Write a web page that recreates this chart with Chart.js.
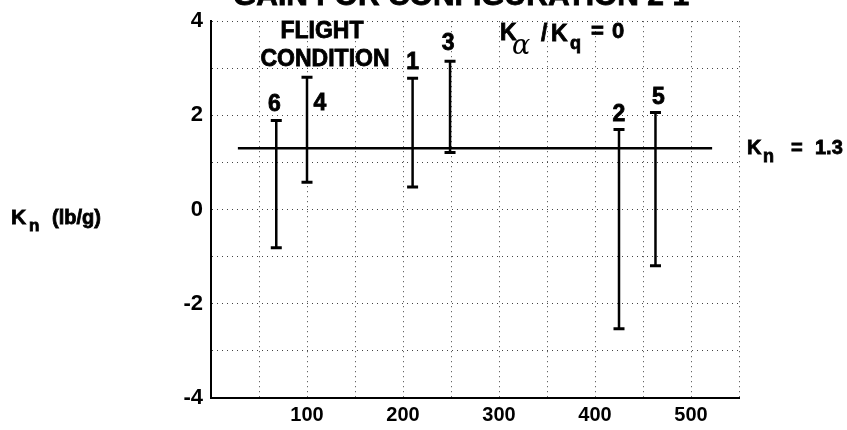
<!DOCTYPE html>
<html>
<head>
<meta charset="utf-8">
<script src="https://cdn.jsdelivr.net/npm/chart.js@4.4.0/dist/chart.umd.min.js"></script>
<style>
  html, body { margin: 0; padding: 0; background: #fff; }
</style>
</head>
<body>
<canvas id="chart" width="847" height="430"></canvas>
<script>
// flight conditions, airspeed and K_n tolerance range (lb/g)
const conditions = ["1", "2", "3", "4", "5", "6"];
const speeds = [210, 425, 249, 100, 463, 68];
const kLow = [0.48, -2.53, 1.21, 0.58, -1.19, -0.81];
const kHigh = [2.79, 1.70, 3.15, 2.81, 2.06, 1.89];
const knValue = 1.3;
const knSpan = [28, 522];
const xLabels = [100, 200, 300, 400, 500];
const yLabels = [-4, -2, 0, 2, 4];

const FONT = "'Liberation Sans', Arial, sans-serif";

const barPoints = [];
conditions.forEach((c, i) => {
  barPoints.push({ x: speeds[i], y: kLow[i] });
  barPoints.push({ x: speeds[i], y: kHigh[i] });
  barPoints.push({ x: speeds[i], y: null });
});

// offsets of the condition numbers from the top of each bar
const labelShift = {
  "1": [0, -9], "2": [0, -9], "3": [-2, -11],
  "4": [13, 33], "5": [3, -9], "6": [-2, -10]
};

// fill + thin stroke, the scanned lettering is heavier than plain bold
function heavy(ctx, txt, x, y) {
  ctx.fillText(txt, x, y);
  ctx.strokeText(txt, x, y);
}

const textPlugin = {
  id: "texts",
  afterDraw(chart) {
    const ctx = chart.ctx;
    const xs = chart.scales.x, ys = chart.scales.y;
    ctx.save();
    ctx.fillStyle = "#000";
    ctx.strokeStyle = "#000";
    ctx.lineWidth = 0.8;
    ctx.textBaseline = "alphabetic";

    // condition numbers
    ctx.font = "bold 23px " + FONT;
    ctx.textAlign = "center";
    conditions.forEach((c, i) => {
      const s = labelShift[c];
      heavy(ctx, c, xs.getPixelForValue(speeds[i]) + s[0], ys.getPixelForValue(kHigh[i]) + s[1]);
    });

    // title, cut off at the top edge
    ctx.font = "bold 30px " + FONT;
    heavy(ctx, "GAIN FOR CONFIGURATION 2 1", 461, 5);

    ctx.font = "bold 23px " + FONT;
    heavy(ctx, "FLIGHT", 322, 38);
    heavy(ctx, "CONDITION", 325, 66);

    // K_alpha / K_q = 0
    ctx.textAlign = "left";
    ctx.font = "bold 23px " + FONT;
    heavy(ctx, "K", 500, 40);
    ctx.font = "italic 27px 'DejaVu Serif', serif";
    ctx.fillText("\u03B1", 512, 54);
    ctx.font = "bold 23px " + FONT;
    heavy(ctx, "/", 541, 41);
    heavy(ctx, "K", 551, 41);
    ctx.font = "bold 18px " + FONT;
    heavy(ctx, "q", 570, 49);
    ctx.font = "bold 22px " + FONT;
    heavy(ctx, "=", 591, 38);
    heavy(ctx, "0", 612, 38);

    // K_n = 1.3
    const yk = ys.getPixelForValue(knValue);
    ctx.font = "bold 20px " + FONT;
    heavy(ctx, "K", 747, yk + 6);
    ctx.font = "bold 18px " + FONT;
    heavy(ctx, "n", 763, yk + 14);
    ctx.font = "bold 20px " + FONT;
    heavy(ctx, "=", 791, yk + 6);
    heavy(ctx, "1.3", 815, yk + 6);

    // axis title
    const y0 = ys.getPixelForValue(0);
    ctx.font = "bold 21px " + FONT;
    heavy(ctx, "K", 11, y0 + 14);
    ctx.font = "bold 17px " + FONT;
    heavy(ctx, "n", 29, y0 + 21);
    ctx.font = "bold 20px " + FONT;
    heavy(ctx, "(lb/g)", 52, y0 + 14);
    ctx.restore();
  }
};

new Chart(document.getElementById("chart"), {
  type: "line",
  data: {
    datasets: [
      {
        label: "Flight conditions",
        data: barPoints,
        borderColor: "#000",
        borderWidth: 2.5,
        spanGaps: false,
        pointStyle: "line",
        pointRadius: 5.5,
        pointBorderWidth: 3,
        pointBorderColor: "#000",
        pointBackgroundColor: "#000",
      },
      {
        label: "Kn",
        data: [{ x: knSpan[0], y: knValue }, { x: knSpan[1], y: knValue }],
        borderColor: "#000",
        borderWidth: 2.5,
        pointRadius: 0,
      },
    ],
  },
  options: {
    responsive: false,
    devicePixelRatio: 1,
    animation: false,
    layout: { padding: { top: 15, right: 108, bottom: 0, left: 0 } },
    plugins: {
      legend: { display: false },
      tooltip: { enabled: false },
      title: { display: false },
    },
    scales: {
      x: {
        type: "linear",
        min: 0,
        max: 550,
        afterFit: (s) => { s.height = 32; },
        grid: { color: "#444", lineWidth: 1, drawTicks: false },
        border: { display: true, color: "#000", width: 2, dash: [1, 4] },
        ticks: {
          stepSize: 50,
          autoSkip: false,
          maxRotation: 0,
          padding: 5,
          color: "#000",
          font: { family: FONT, size: 20, weight: "bold" },
          callback: (v) => (xLabels.includes(v) ? String(v) : ""),
        },
      },
      y: {
        min: -4,
        max: 4,
        afterFit: (s) => { s.width = 211; },
        grid: { color: "#444", lineWidth: 1, drawTicks: false },
        border: { display: true, color: "#000", width: 2, dash: [1, 4] },
        ticks: {
          stepSize: 1,
          autoSkip: false,
          padding: 8,
          color: "#000",
          font: { family: FONT, size: 22, weight: "bold" },
          callback: (v) => (yLabels.includes(v) ? String(v) : ""),
        },
      },
    },
  },
  plugins: [textPlugin],
});
</script>
</body>
</html>
